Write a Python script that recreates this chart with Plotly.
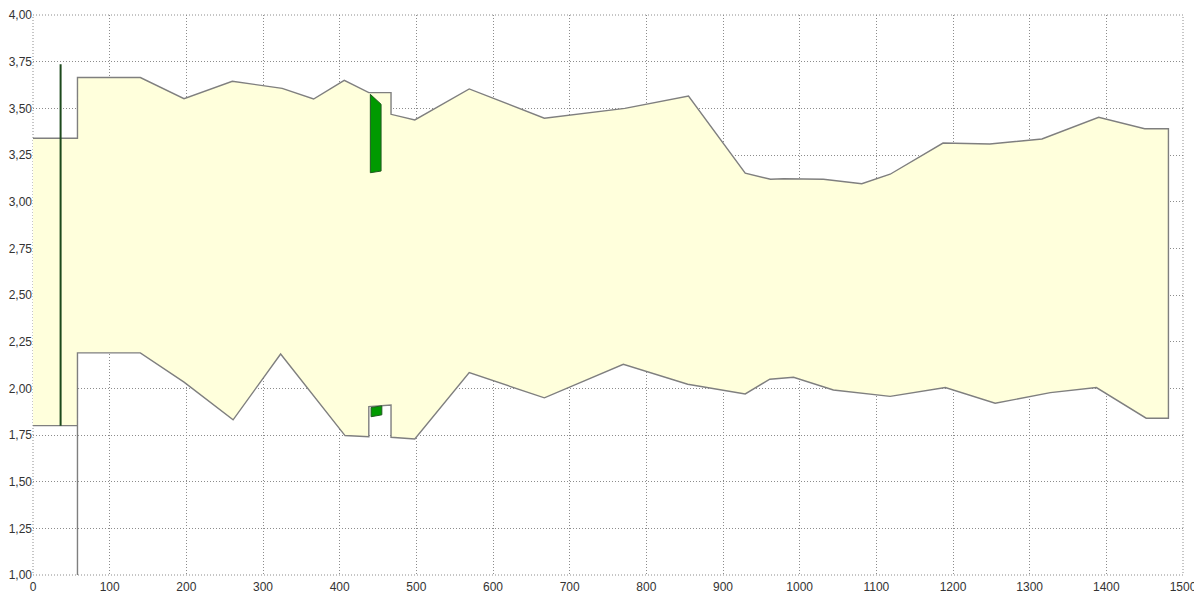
import plotly.graph_objects as go

# Upper boundary of the band
upper_x = [0, 58, 58, 140, 197, 260, 325, 366, 406, 438, 467, 467, 498, 569, 667, 772, 855,
           929, 962, 979, 1031, 1081, 1118, 1187, 1248, 1316, 1390, 1450, 1481]
upper_y = [3.34, 3.34, 3.665, 3.665, 3.552, 3.645, 3.607, 3.55, 3.65, 3.584, 3.584, 3.468, 3.438,
           3.604, 3.447, 3.50, 3.566, 3.153, 3.12, 3.123, 3.12, 3.096, 3.147, 3.314, 3.309,
           3.336, 3.452, 3.391, 3.391]

# Lower boundary (left stub and main part)
lower_left_x = [0, 58]
lower_left_y = [1.80, 1.80]
lower_x = [58, 140, 197, 261, 323, 407, 438, 438, 467, 467, 498, 569, 667, 770, 854, 929, 961,
           992, 1044, 1118, 1190, 1255, 1327, 1387, 1452, 1481]
lower_y = [2.19, 2.19, 2.033, 1.831, 2.184, 1.747, 1.741, 1.902, 1.911, 1.738, 1.729, 2.084,
           1.949, 2.129, 2.022, 1.97, 2.049, 2.059, 1.991, 1.957, 2.004, 1.92, 1.977, 2.004,
           1.84, 1.84]

# Drop line at x=58 down to the axis floor
drop_x = [58, 58]
drop_y = [2.19, 1.00]

# Dark green vertical marker
marker_x = [36, 36]
marker_y = [1.80, 3.736]

# Green patches
patch_top_x = [440, 454, 454, 440]
patch_top_y = [3.575, 3.522, 3.164, 3.155]
patch_bot_x = [441, 455, 455, 441]
patch_bot_y = [1.897, 1.906, 1.858, 1.848]

x_ticks = list(range(0, 1501, 100))
y_ticks = [1.00, 1.25, 1.50, 1.75, 2.00, 2.25, 2.50, 2.75, 3.00, 3.25, 3.50, 3.75, 4.00]

fig = go.Figure()

# band fill
fill_x = upper_x + lower_x[::-1] + lower_left_x[::-1]
fill_y = upper_y + lower_y[::-1] + lower_left_y[::-1]
fig.add_trace(go.Scatter(x=fill_x, y=fill_y, fill="toself", fillcolor="#FFFFDC",
                         mode="lines", line=dict(width=0), hoverinfo="skip"))

line_style = dict(color="#7f7f7f", width=1.4)
out_x = upper_x + lower_x[::-1] + [drop_x[1]]
out_y = upper_y + lower_y[::-1] + [drop_y[1]]
fig.add_trace(go.Scatter(x=out_x, y=out_y, mode="lines", line=line_style))
fig.add_trace(go.Scatter(x=lower_left_x, y=lower_left_y, mode="lines", line=line_style))

fig.add_trace(go.Scatter(x=marker_x, y=marker_y, mode="lines",
                         line=dict(color="#1d4a1d", width=2)))

for px, py in [(patch_top_x, patch_top_y), (patch_bot_x, patch_bot_y)]:
    fig.add_trace(go.Scatter(x=px + [px[0]], y=py + [py[0]], fill="toself",
                             fillcolor="#009a00", mode="lines",
                             line=dict(color="#1f5a1f", width=1)))

grid_dash = "1px,2px"
axis_common = dict(showgrid=True, gridcolor="#8c8c8c", griddash=grid_dash, gridwidth=1,
                   zeroline=False, showline=False, ticks="", automargin=False,
                   tickfont=dict(family="Liberation Sans, Arial, sans-serif", size=12,
                                 color="#333333"))

fig.update_xaxes(range=[0, 1500], tickvals=x_ticks, ticktext=[str(v) for v in x_ticks],
                 ticklabelstandoff=3, **axis_common)
fig.update_yaxes(range=[1, 4], tickvals=y_ticks,
                 ticktext=[f"{v:.2f}".replace(".", ",") for v in y_ticks], **axis_common)

# dotted frame at the range edges (grid lines at boundaries)
fig.add_shape(type="rect", xref="paper", yref="paper", x0=0, y0=0, x1=1, y1=1,
              line=dict(color="#8c8c8c", width=1, dash=grid_dash), layer="below")

fig.update_layout(width=1202, height=592, showlegend=False,
                  plot_bgcolor="white", paper_bgcolor="white",
                  margin=dict(l=25, r=27, t=7, b=25, autoexpand=False))

fig.write_html("out.html")
